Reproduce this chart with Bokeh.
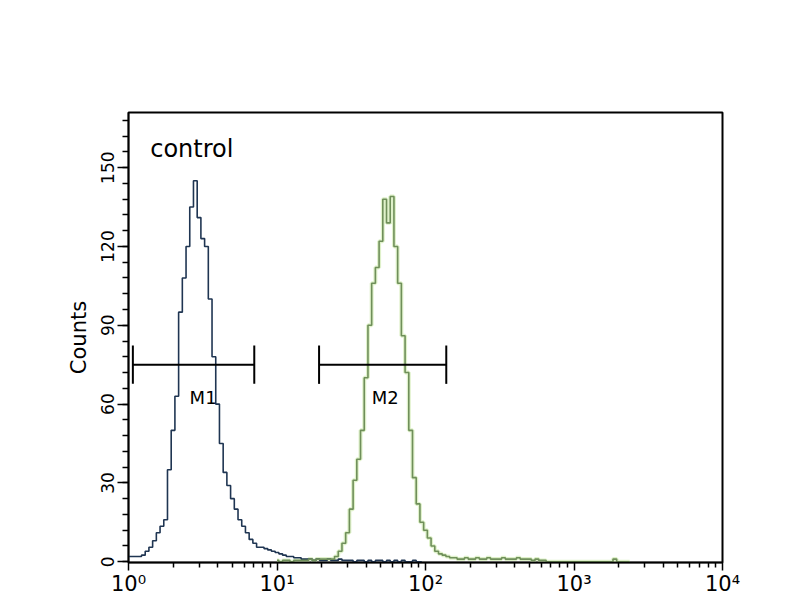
from bokeh.plotting import figure
from bokeh.models import Range1d, FixedTicker, CustomJSTickFormatter
from bokeh.core.properties import value
from bokeh.embed import file_html
from bokeh.resources import INLINE

# histogram channels: 40 channels per decade, channel k sits at 10**(k/40)
CH_PER_DECADE = 40

blue_start = 0
blue_counts = [2, 2, 2, 2, 2.5, 4, 5.5, 8, 11, 13.5,
               16, 35, 50, 63, 95, 108, 120, 135, 145, 131,
               123, 120, 100, 78, 60, 45, 34, 29, 24, 20,
               16, 13.5, 11, 8.5, 7, 5.5, 5.5, 5, 4.5, 4,
               3.5, 3, 2.5, 2, 2, 1.5, 1.5, 1, 1, 1,
               0.5, 1, 0.5, 0.5, 1, 0.5, 0.5, 1, 0.5, 0.5,
               0.5, 0, 0.5, 0.5, 0, 0.5, 0, 0.5, 0.5, 0,
               0.5, 0, 0.5, 0, 0.5, 0, 0, 0.5, 0, 0]

green_start = 40
green_counts = [0.5, 0, 0.5, 0.5, 0, 0.5, 0.5, 0.5, 0.5, 1,
                0.5, 1, 1, 1, 1, 1, 2, 4, 7, 11,
                20, 31, 39, 50, 70, 90, 106, 112, 122, 138,
                129, 139, 120, 106, 86, 72, 50, 32, 22, 15,
                12, 9, 6, 4, 3, 2.5, 2, 1.5, 1.5, 1,
                1, 1.5, 1, 1, 1.5, 1, 1, 1.5, 1, 1,
                1, 1.5, 1, 1, 1, 1.5, 1, 1, 1, 0.5,
                1, 0.5, 0.5, 0, 0, 0, 0, 0, 0, 0,
                0, 0, 0, 0, 0, 0, 0, 0, 0, 0,
                0, 1, 0, 0, 0, 0]

x_ticks = [1, 10, 100, 1000, 10000]
y_ticks = [0, 30, 60, 90, 120, 150]

markers = ["M1", "M2"]
marker_lo = [1.07, 19.2]
marker_hi = [7.03, 138]
marker_y = [75, 75]
marker_label_x = [3.18, 53.5]
marker_label_y = [62.5, 62.5]

sample_label = "control"
sample_label_x = 1.4
sample_label_y = 157

CAP = 7.3
FONT = "DejaVu Sans"

blue_x = [10 ** ((blue_start + i) / CH_PER_DECADE) for i in range(len(blue_counts))]
green_x = [10 ** ((green_start + i) / CH_PER_DECADE) for i in range(len(green_counts))]

p = figure(width=790, height=600, x_axis_type="log",
           x_range=Range1d(1, 10000), y_range=Range1d(-0.3, 171),
           output_backend="svg", toolbar_location=None,
           min_border_left=128, min_border_right=68,
           min_border_top=112, min_border_bottom=38)

p.grid.visible = False
p.outline_line_color = "black"
p.outline_line_width = 2
p.background_fill_color = "white"
p.border_fill_color = "white"

# histograms
p.step(green_x, green_counts, mode="center", color="#c9e8a6", line_width=4, line_alpha=0.6)
p.step(blue_x, blue_counts, mode="center", color="#1f3552", line_width=1.6)
p.step(green_x, green_counts, mode="center", color="#6f8f5a", line_width=1.6)

# marker gates
p.segment(x0=marker_lo, y0=marker_y, x1=marker_hi, y1=marker_y, color="black", line_width=2)
p.segment(x0=marker_lo + marker_hi, y0=[y - CAP for y in marker_y * 2],
          x1=marker_lo + marker_hi, y1=[y + CAP for y in marker_y * 2],
          color="black", line_width=2)
p.text(x=marker_label_x, y=marker_label_y, text=markers,
       text_font=value(FONT), text_font_size=value("18px"),
       text_align="center", text_baseline="middle", text_color="black")
p.text(x=[sample_label_x], y=[sample_label_y], text=[sample_label],
       text_font=value(FONT), text_font_size=value("24px"),
       text_align="left", text_baseline="middle", text_color="black")

# x axis (log)
minor_x = [m * 10 ** d for d in range(4) for m in range(2, 10)]
p.xaxis.ticker = FixedTicker(ticks=x_ticks, minor_ticks=minor_x)
p.xaxis.formatter = CustomJSTickFormatter(code="""
const sup = {"0": "\u2070", "1": "\u00b9", "2": "\u00b2", "3": "\u00b3", "4": "\u2074"};
const e = Math.round(Math.log10(tick)).toString();
return "10" + e.split("").map(c => sup[c]).join("");
""")
p.xaxis.major_label_text_font = FONT
p.xaxis.major_label_text_font_size = "21px"
p.xaxis.major_label_standoff = 1
p.xaxis.major_tick_out = 8
p.xaxis.major_tick_in = 0
p.xaxis.minor_tick_out = 5
p.xaxis.minor_tick_in = 0

# y axis
p.yaxis.ticker = FixedTicker(ticks=y_ticks, minor_ticks=list(range(0, 172, 6)))
p.yaxis.major_label_orientation = "vertical"
p.yaxis.major_label_text_font = FONT
p.yaxis.major_label_text_font_size = "17px"
p.yaxis.major_label_standoff = 3
p.yaxis.major_tick_out = 11
p.yaxis.major_tick_in = 0
p.yaxis.minor_tick_out = 6
p.yaxis.minor_tick_in = 0
p.yaxis.axis_label = "Counts"
p.yaxis.axis_label_text_font = FONT
p.yaxis.axis_label_text_font_style = "normal"
p.yaxis.axis_label_text_font_size = "21px"
p.yaxis.axis_label_standoff = 8

for ax in (p.xaxis, p.yaxis):
    ax.axis_line_color = "black"
    ax.axis_line_width = 1.5
    ax.major_tick_line_color = "black"
    ax.major_tick_line_width = 1.5
    ax.minor_tick_line_color = "black"
    ax.minor_tick_line_width = 1.5
    ax.major_label_text_color = "black"
    ax.axis_label_text_color = "black"

open("out.html", "w").write(file_html(p, INLINE))
